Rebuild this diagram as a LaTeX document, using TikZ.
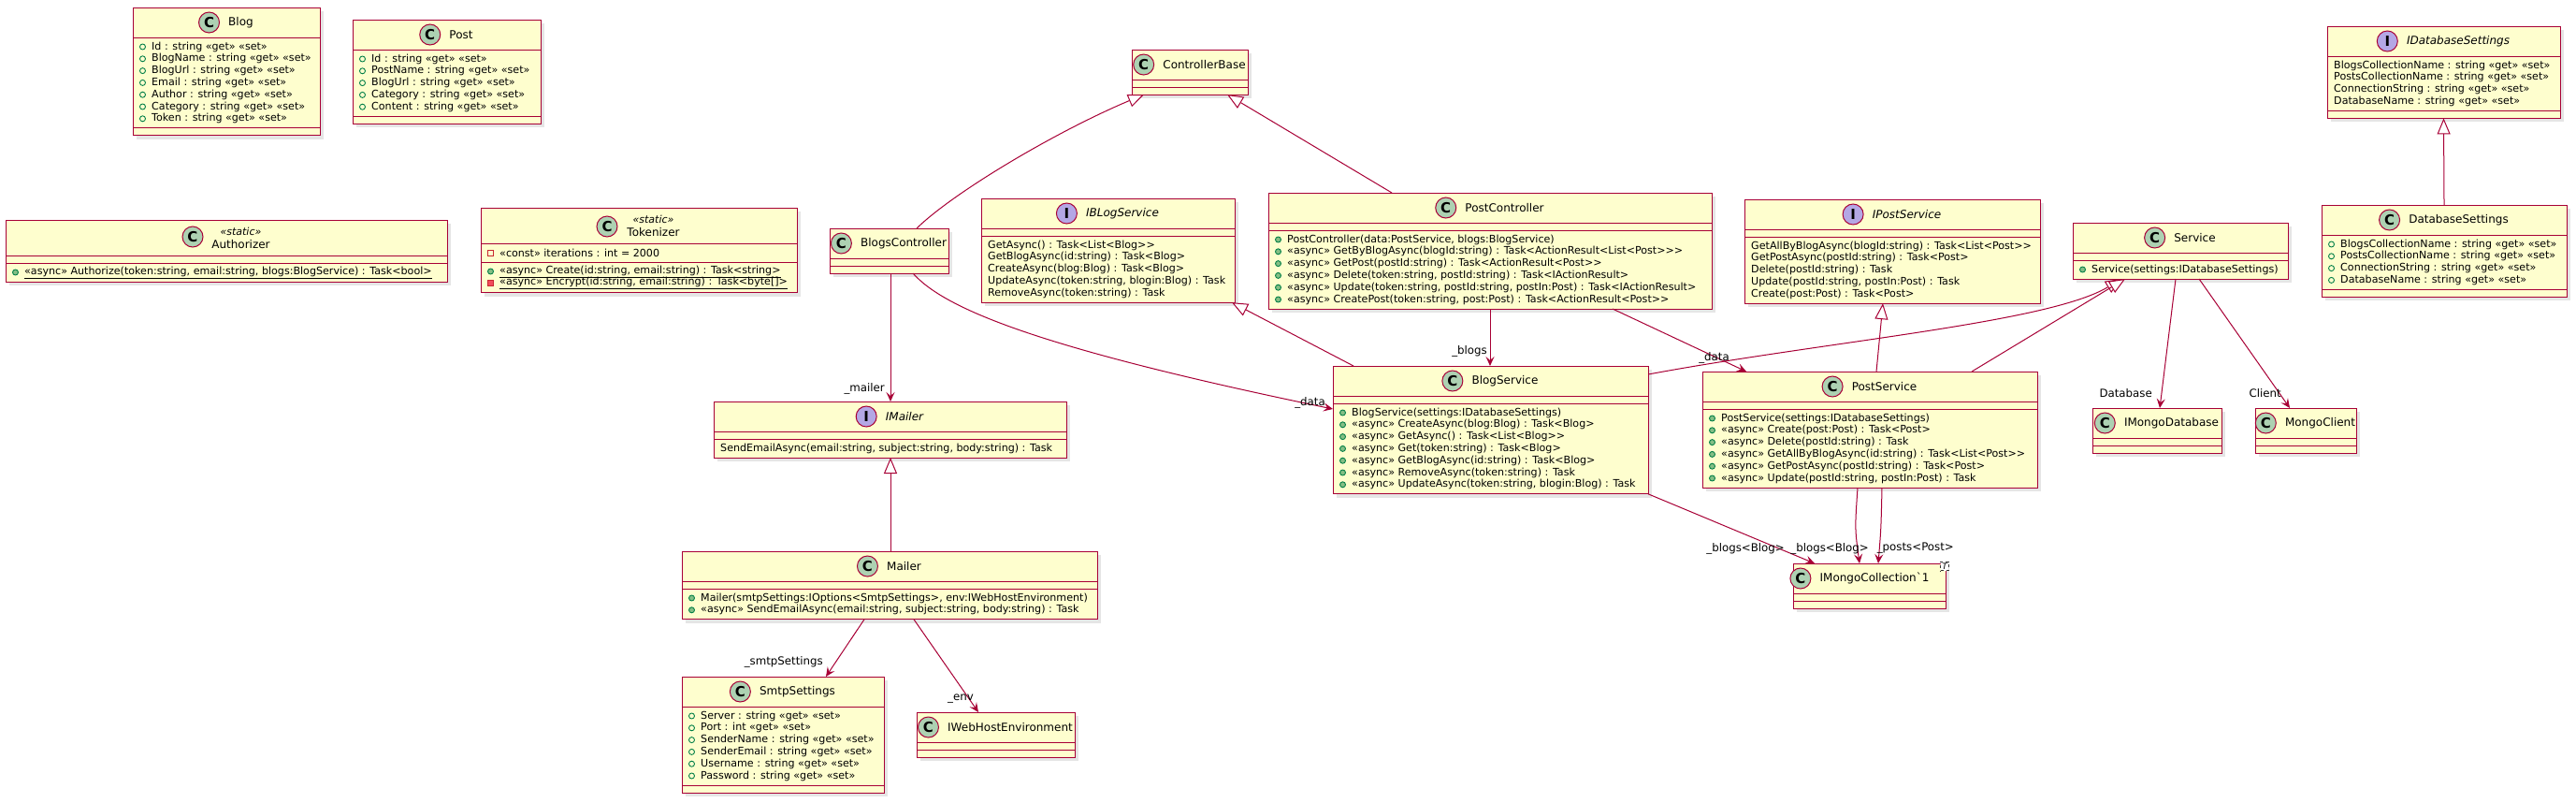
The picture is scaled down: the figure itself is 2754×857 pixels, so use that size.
\documentclass[tikz,border=0pt]{standalone}
\usepackage{fontspec}
\newfontfamily\umlfont{DejaVu Sans}
\usepackage{xcolor}
\usepackage{tikz}
\usetikzlibrary{arrows.meta, shadows, positioning}

\definecolor{umlfill}{HTML}{FEFECE}
\definecolor{umlborder}{HTML}{A80036}
\definecolor{classicon}{HTML}{ADD1B2}
\definecolor{ifaceicon}{HTML}{B4A7E5}
\definecolor{visgreen}{HTML}{038048}
\definecolor{visgreenfill}{HTML}{84BE84}
\definecolor{visred}{HTML}{C82930}
\definecolor{visredfill}{HTML}{F24D5C}

\tikzset{
  classbox/.style={draw=umlborder, fill=umlfill, line width=1pt, anchor=north west, inner sep=0pt, outer sep=0pt,
    drop shadow={shadow xshift=4pt, shadow yshift=-4pt, fill=black, opacity=0.1}},
  sepline/.style={draw=umlborder, line width=1pt},
  classname/.style={font=\umlfont\fontsize{12}{14}\selectfont, inner sep=0pt},
  ifacename/.style={font=\umlfont\itshape\fontsize{12}{14}\selectfont, inner sep=0pt},
  stereo/.style={font=\umlfont\itshape\fontsize{11}{13}\selectfont, inner sep=0pt},
  member/.style={font=\umlfont\fontsize{11.1}{12.8}\selectfont, inner sep=0pt, anchor=west},
  cicon/.style={circle, draw=umlborder, line width=1pt, fill=classicon, minimum size=22pt, inner sep=0pt,
    font=\umlfont\bfseries\fontsize{15}{15}\selectfont},
  iicon/.style={cicon, fill=ifaceicon},
  pubfield/.style={draw=visgreen, line width=0.9pt},
  pubmethod/.style={draw=visgreen, fill=visgreenfill, line width=0.9pt},
  privfield/.style={draw=visred, line width=0.9pt},
  privmethod/.style={draw=visred, fill=visredfill, line width=0.9pt},
  extends/.style={draw=umlborder, line width=1pt, -{Triangle[length=17pt, width=14pt, fill=white]}},
  uses/.style={draw=umlborder, line width=1pt, -{Stealth[length=10pt, width=9pt, inset=4pt]}},
  rolelabel/.style={font=\umlfont\fontsize{11.8}{14}\selectfont, inner sep=0pt, anchor=east},
}

\begin{document}
\begin{tikzpicture}[x=1pt, y=-1pt]
        % 0. Canvas (y runs downwards, one unit = one pixel)
        \useasboundingbox[fill=white] (0,0) rectangle (2754,857);

        % 1. Models
        \node[classbox, minimum width=200pt, minimum height=136.8pt] (blog) at (142,8) {};
        \node[classname] (blogT) at (257.5,24) {Blog};
        \node[cicon, left=9pt of blogT] (blogI) {C};
        \draw[sepline] (142,40) -- ++(200,0) (142,136.8) -- ++(200,0);
        \foreach \m [count=\i from 0] in {Id, BlogName, BlogUrl, Email, Author, Category, Token}{
            \draw[pubfield] (152.5,{50+12.8*\i}) circle (3pt);
            \node[member] (blogM\i) at (162,{50+12.8*\i}) {\m\ : string «get» «set»};
        }

        \node[classbox, minimum width=201pt, minimum height=111.2pt] (post) at (377,21) {};
        \node[classname] (postT) at (493,37) {Post};
        \node[cicon, left=9pt of postT] (postI) {C};
        \draw[sepline] (377,53) -- ++(201,0) (377,124.2) -- ++(201,0);
        \foreach \m [count=\i from 0] in {Id, PostName, BlogUrl, Category, Content}{
            \draw[pubfield] (387.5,{63+12.8*\i}) circle (3pt);
            \node[member] (postM\i) at (397,{63+12.8*\i}) {\m\ : string «get» «set»};
        }

        % 2. Static helpers
        \node[classbox, minimum width=472pt, minimum height=66pt] (auth) at (6,235) {};
        \node[stereo] (authS) at (257.5,247) {«static»};
        \node[classname] (authT) at (257.5,261) {Authorizer};
        \node[cicon] (authI) at (206,253) {C};
        \draw[sepline] (6,273) -- ++(472,0) (6,281) -- ++(472,0);
        \draw[pubmethod] (16.5,291) circle (3pt);
        \node[member] (authM0) at (26,291) {\underline{«async» Authorize(token:string, email:string, blogs:BlogService) : Task<bool>}};

        \node[classbox, minimum width=338pt, minimum height=90.8pt] (tok) at (514,222) {};
        \node[stereo] (tokS) at (698.5,234) {«static»};
        \node[classname] (tokT) at (698.5,248) {Tokenizer};
        \node[cicon] (tokI) at (649,242) {C};
        \draw[sepline] (514,260) -- ++(338,0) (514,280) -- ++(338,0);
        \draw[privfield] (521.5,267) rectangle ++(6,6);
        \node[member] (tokF0) at (534,270) {«const» iterations : int = 2000};
        \draw[pubmethod] (524.5,290) circle (3pt);
        \node[member] (tokM0) at (534,290) {\underline{«async» Create(id:string, email:string) : Task<string>}};
        \draw[privmethod] (521.5,299.8) rectangle ++(6,6);
        \node[member] (tokM1) at (534,302.8) {\underline{«async» Encrypt(id:string, email:string) : Task<byte[]>}};

        % 3. Controllers
        \node[classbox, minimum width=124pt, minimum height=48pt] (ctlbase) at (1210,53) {};
        \node[classname] (ctlbaseT) at (1287.5,69) {ControllerBase};
        \node[cicon, left=9pt of ctlbaseT] (ctlbaseI) {C};
        \draw[sepline] (1210,85) -- ++(124,0) (1210,93) -- ++(124,0);

        \node[classbox, minimum width=127pt, minimum height=48pt] (blogsctl) at (887,244) {};
        \node[classname] (blogsctlT) at (966,260) {BlogsController};
        \node[cicon, left=9pt of blogsctlT] (blogsctlI) {C};
        \draw[sepline] (887,276) -- ++(127,0) (887,284) -- ++(127,0);

        \node[classbox, minimum width=474pt, minimum height=124pt] (postctl) at (1356,206) {};
        \node[classname] (postctlT) at (1608.5,222) {PostController};
        \node[cicon, left=9pt of postctlT] (postctlI) {C};
        \draw[sepline] (1356,238) -- ++(474,0) (1356,246) -- ++(474,0);
        \foreach \m [count=\i from 0] in {{PostController(data:PostService, blogs:BlogService)},
            «async» GetByBlogAsync(blogId:string) : Task<ActionResult<List<Post>>>,
            «async» GetPost(postId:string) : Task<ActionResult<Post>>,
            {«async» Delete(token:string, postId:string) : Task<IActionResult>},
            {«async» Update(token:string, postId:string, postIn:Post) : Task<IActionResult>},
            {«async» CreatePost(token:string, post:Post) : Task<ActionResult<Post>>}}{
            \draw[pubmethod] (1366.5,{256+12.8*\i}) circle (3pt);
            \node[member] (postctlM\i) at (1376,{256+12.8*\i}) {\m};
        }

        % 4. Service interfaces
        \node[classbox, minimum width=271pt, minimum height=111.2pt] (ibsvc) at (1049,212) {};
        \node[ifacename] (ibsvcT) at (1200,228) {IBLogService};
        \node[iicon, left=9pt of ibsvcT] (ibsvcI) {I};
        \draw[sepline] (1049,244) -- ++(271,0) (1049,252) -- ++(271,0);
        \foreach \m [count=\i from 0] in {GetAsync() : Task<List<Blog>>, GetBlogAsync(id:string) : Task<Blog>,
            CreateAsync(blog:Blog) : Task<Blog>, {UpdateAsync(token:string, blogin:Blog) : Task},
            RemoveAsync(token:string) : Task}{
            \node[member] (ibsvcM\i) at (1056,{262+12.8*\i}) {\m};
        }

        \node[classbox, minimum width=316pt, minimum height=111.2pt] (ipsvc) at (1865,213) {};
        \node[ifacename] (ipsvcT) at (2038.5,229) {IPostService};
        \node[iicon, left=9pt of ipsvcT] (ipsvcI) {I};
        \draw[sepline] (1865,245) -- ++(316,0) (1865,253) -- ++(316,0);
        \foreach \m [count=\i from 0] in {GetAllByBlogAsync(blogId:string) : Task<List<Post>>,
            GetPostAsync(postId:string) : Task<Post>, Delete(postId:string) : Task,
            {Update(postId:string, postIn:Post) : Task}, Create(post:Post) : Task<Post>}{
            \node[member] (ipsvcM\i) at (1872,{263+12.8*\i}) {\m};
        }

        % 5. Services
        \node[classbox, minimum width=230pt, minimum height=60pt] (service) at (2216,238) {};
        \node[classname] (serviceT) at (2346.5,254) {Service};
        \node[cicon, left=9pt of serviceT] (serviceI) {C};
        \draw[sepline] (2216,270) -- ++(230,0) (2216,278) -- ++(230,0);
        \draw[pubmethod] (2226.5,288) circle (3pt);
        \node[member] (serviceM0) at (2236,288) {Service(settings:IDatabaseSettings)};

        \node[classbox, minimum width=337pt, minimum height=136.8pt] (blogsvc) at (1425,391) {};
        \node[classname] (blogsvcT) at (1609,407) {BlogService};
        \node[cicon, left=9pt of blogsvcT] (blogsvcI) {C};
        \draw[sepline] (1425,423) -- ++(337,0) (1425,431) -- ++(337,0);
        \foreach \m [count=\i from 0] in {BlogService(settings:IDatabaseSettings),
            «async» CreateAsync(blog:Blog) : Task<Blog>, «async» GetAsync() : Task<List<Blog>>,
            «async» Get(token:string) : Task<Blog>, «async» GetBlogAsync(id:string) : Task<Blog>,
            «async» RemoveAsync(token:string) : Task, {«async» UpdateAsync(token:string, blogin:Blog) : Task}}{
            \draw[pubmethod] (1435.5,{441+12.8*\i}) circle (3pt);
            \node[member] (blogsvcM\i) at (1445,{441+12.8*\i}) {\m};
        }

        \node[classbox, minimum width=358pt, minimum height=124pt] (postsvc) at (1820,397) {};
        \node[classname] (postsvcT) at (2014.5,413) {PostService};
        \node[cicon, left=9pt of postsvcT] (postsvcI) {C};
        \draw[sepline] (1820,429) -- ++(358,0) (1820,437) -- ++(358,0);
        \foreach \m [count=\i from 0] in {PostService(settings:IDatabaseSettings),
            «async» Create(post:Post) : Task<Post>, «async» Delete(postId:string) : Task,
            «async» GetAllByBlogAsync(id:string) : Task<List<Post>>,
            «async» GetPostAsync(postId:string) : Task<Post>, {«async» Update(postId:string, postIn:Post) : Task}}{
            \draw[pubmethod] (1830.5,{447+12.8*\i}) circle (3pt);
            \node[member] (postsvcM\i) at (1840,{447+12.8*\i}) {\m};
        }

        % 6. Database settings
        \node[classbox, minimum width=249pt, minimum height=98.4pt] (idbset) at (2488,28) {};
        \node[ifacename] (idbsetT) at (2628,44) {IDatabaseSettings};
        \node[iicon, left=9pt of idbsetT] (idbsetI) {I};
        \draw[sepline] (2488,60) -- ++(249,0) (2488,118.4) -- ++(249,0);
        \foreach \m [count=\i from 0] in {BlogsCollectionName, PostsCollectionName, ConnectionString, DatabaseName}{
            \node[member] (idbsetM\i) at (2495,{70+12.8*\i}) {\m\ : string «get» «set»};
        }

        \node[classbox, minimum width=262pt, minimum height=98.4pt] (dbset) at (2482,219) {};
        \node[classname] (dbsetT) at (2628.5,235) {DatabaseSettings};
        \node[cicon, left=9pt of dbsetT] (dbsetI) {C};
        \draw[sepline] (2482,251) -- ++(262,0) (2482,309.4) -- ++(262,0);
        \foreach \m [count=\i from 0] in {BlogsCollectionName, PostsCollectionName, ConnectionString, DatabaseName}{
            \draw[pubfield] (2492.5,{261+12.8*\i}) circle (3pt);
            \node[member] (dbsetM\i) at (2502,{261+12.8*\i}) {\m\ : string «get» «set»};
        }

        % 7. Mongo types
        \node[classbox, minimum width=138pt, minimum height=48pt] (imdb) at (2237,436) {};
        \node[classname] (imdbT) at (2321.5,452) {IMongoDatabase};
        \node[cicon, left=9pt of imdbT] (imdbI) {C};
        \draw[sepline] (2237,468) -- ++(138,0) (2237,476) -- ++(138,0);

        \node[classbox, minimum width=108pt, minimum height=48pt] (mclient) at (2411,436) {};
        \node[classname] (mclientT) at (2480.5,452) {MongoClient};
        \node[cicon, left=9pt of mclientT] (mclientI) {C};
        \draw[sepline] (2411,468) -- ++(108,0) (2411,476) -- ++(108,0);

        \node[classbox, minimum width=163pt, minimum height=48pt] (imcoll) at (1917,602) {};
        \node[classname] (imcollT) at (2004,618) {IMongoCollection`1};
        \node[cicon, left=9pt of imcollT] (imcollI) {C};
        \draw[sepline] (1917,634) -- ++(163,0) (1917,642) -- ++(163,0);
        \node[draw=black!80, dashed, fill=white, line width=0.7pt, inner sep=1.5pt,
            font=\umlfont\itshape\fontsize{9}{9}\selectfont] (imcollP) at (2079,605) {T};

        % 8. Mail
        \node[classbox, minimum width=377pt, minimum height=60pt] (imailer) at (763,429) {};
        \node[ifacename] (imailerT) at (967,445) {IMailer};
        \node[iicon, left=9pt of imailerT] (imailerI) {I};
        \draw[sepline] (763,461) -- ++(377,0) (763,469) -- ++(377,0);
        \node[member] (imailerM0) at (770,479) {SendEmailAsync(email:string, subject:string, body:string) : Task};

        \node[classbox, minimum width=444pt, minimum height=72.8pt] (mailer) at (729,589) {};
        \node[classname] (mailerT) at (966.5,605) {Mailer};
        \node[cicon, left=9pt of mailerT] (mailerI) {C};
        \draw[sepline] (729,621) -- ++(444,0) (729,629) -- ++(444,0);
        \foreach \m [count=\i from 0] in {{Mailer(smtpSettings:IOptions<SmtpSettings>, env:IWebHostEnvironment)},
            {«async» SendEmailAsync(email:string, subject:string, body:string) : Task}}{
            \draw[pubmethod] (739.5,{639+12.8*\i}) circle (3pt);
            \node[member] (mailerM\i) at (749,{639+12.8*\i}) {\m};
        }

        \node[classbox, minimum width=216pt, minimum height=124pt] (smtp) at (729,723) {};
        \node[classname] (smtpT) at (852.5,739) {SmtpSettings};
        \node[cicon, left=9pt of smtpT] (smtpI) {C};
        \draw[sepline] (729,755) -- ++(216,0) (729,839) -- ++(216,0);
        \foreach \m [count=\i from 0] in {Server : string, Port : int, SenderName : string,
            SenderEmail : string, Username : string, Password : string}{
            \draw[pubfield] (739.5,{765+12.8*\i}) circle (3pt);
            \node[member] (smtpM\i) at (749,{765+12.8*\i}) {\m\ «get» «set»};
        }

        \node[classbox, minimum width=169pt, minimum height=48pt] (iweb) at (980,761) {};
        \node[classname] (iwebT) at (1080,777) {IWebHostEnvironment};
        \node[cicon, left=9pt of iwebT] (iwebI) {C};
        \draw[sepline] (980,793) -- ++(169,0) (980,801) -- ++(169,0);

        % 9. Inheritance
        \draw[extends] ([xshift=93pt]blogsctl.north west) .. controls (1020,205) and (1130,140) .. ([xshift=13pt]ctlbase.south west);
        \draw[extends] ([xshift=132pt]postctl.north west) -- ([xshift=102pt]ctlbase.south west);
        \draw[extends] ([xshift=22pt]blogsvc.north west) -- ([xshift=268pt]ibsvc.south west);
        \draw[extends] ([xshift=186pt]postsvc.north west) -- ([xshift=148pt]ipsvc.south west);
        \draw[extends] ([yshift=-9pt]blogsvc.north east) .. controls (1950,365) and (2190,345) .. ([xshift=52pt]service.south west);
        \draw[extends] ([xshift=288pt]postsvc.north west) -- ([xshift=56pt]service.south west);
        \draw[extends] (dbset.north) -- (idbset.south);
        \draw[extends] ([xshift=223pt]mailer.north west) -- ([xshift=189pt]imailer.south west);

        % 10. Associations
        \draw[uses] ([xshift=65pt]blogsctl.south west) -- ([xshift=189pt]imailer.north west);
        \draw[uses] ([xshift=89pt]blogsctl.south west) .. controls (1010,330) and (1110,372) .. ([yshift=-46pt]blogsvc.north west);
        \draw[uses] ([xshift=237pt]postctl.south west) -- ([xshift=168pt]blogsvc.north west);
        \draw[uses] ([xshift=368pt]postctl.south west) -- ([xshift=47pt]postsvc.north west);
        \draw[uses] ([xshift=110pt]service.south west) -- ([xshift=72pt]imdb.north west);
        \draw[uses] ([xshift=135pt]service.south west) -- ([xshift=37pt]mclient.north west);
        \draw[uses] ([xshift=195pt]mailer.south west) -- ([xshift=154pt]smtp.north west);
        \draw[uses] ([xshift=248pt]mailer.south west) -- ([xshift=66pt]iweb.north west);
        \draw[uses] (blogsvc.south east) -- ([xshift=23pt]imcoll.north west);
        \draw[uses] ([xshift=166pt]postsvc.south west) .. controls (1983,565) .. ([xshift=71pt]imcoll.north west);
        \draw[uses] ([xshift=192pt]postsvc.south west) .. controls (2011,565) .. ([xshift=91pt]imcoll.north west);

        % 11. Role names
        \node[rolelabel] (lmailer) at (946,415) {\_mailer};
        \node[rolelabel] (ldata1) at (1417,430) {\_data};
        \node[rolelabel] (lblogs) at (1590,375) {\_blogs};
        \node[rolelabel] (ldata2) at (1849,382) {\_data};
        \node[rolelabel] (ldb) at (2301,420) {Database};
        \node[rolelabel] (lclient) at (2439,420) {Client};
        \node[rolelabel] (lsmtp) at (880,707) {\_smtpSettings};
        \node[rolelabel] (lenv) at (1041,747) {\_env};
        \node[rolelabel] (lcoll1) at (1908,586) {\_blogs<Blog>};
        \node[rolelabel] (lcoll2) at (1998,586) {\_blogs<Blog>};
        \node[rolelabel] (lcoll3) at (2089,586) {\_posts<Post>};

\end{tikzpicture}
\end{document}
